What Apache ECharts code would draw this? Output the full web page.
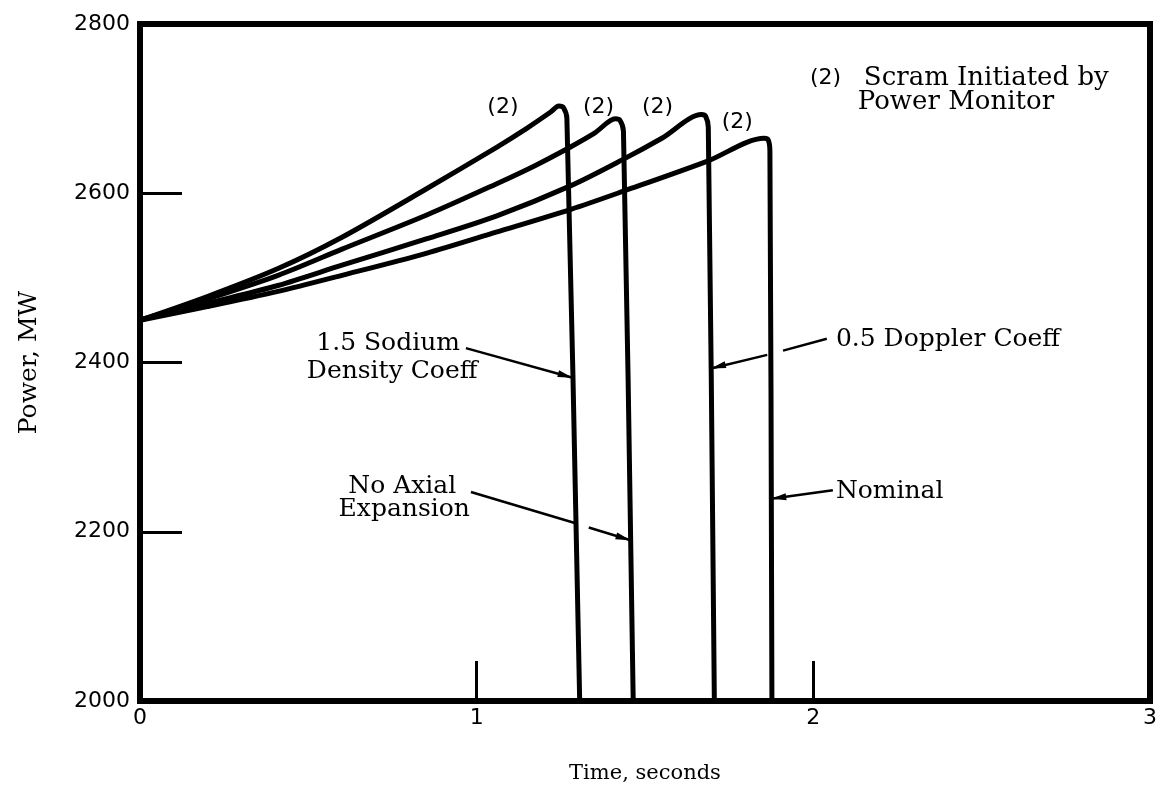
<!DOCTYPE html>
<html>
<head>
<meta charset="utf-8">
<script src="https://cdn.jsdelivr.net/npm/echarts@6/dist/echarts.min.js"></script>
<style>
  html, body { margin: 0; padding: 0; background: #fff; }
  #chart { width: 1160px; height: 791px; }
</style>
</head>
<body>
<div id="chart"></div>
<script>
// Reactor power transients, time in seconds vs power in MW
const sodiumT   = [0, 0.2, 0.41, 0.6, 0.85, 1.058, 1.15, 1.22, 1.244, 1.258, 1.268, 1.306];
const sodiumP   = [2450, 2478, 2511, 2548, 2605, 2654, 2677, 2696, 2703, 2701, 2688, 2000];

const noAxialT  = [0, 0.2, 0.41, 0.6, 0.85, 1.058, 1.17, 1.28, 1.35, 1.412, 1.426, 1.436, 1.465];
const noAxialP  = [2450, 2475, 2503, 2534, 2574, 2611, 2632, 2655, 2671, 2688, 2686, 2673, 2000];

const dopplerT  = [0, 0.2, 0.41, 0.6, 0.85, 1.058, 1.28, 1.435, 1.55, 1.668, 1.68, 1.688, 1.706];
const dopplerP  = [2450, 2470, 2491, 2515, 2546, 2573, 2609, 2640, 2665, 2693, 2691, 2678, 2000];

const nominalT  = [0, 0.2, 0.41, 0.6, 0.85, 1.058, 1.28, 1.44, 1.686, 1.854, 1.866, 1.871, 1.877];
const nominalP  = [2450, 2466, 2484, 2503, 2529, 2554, 2581, 2603, 2638, 2665, 2663, 2650, 2000];

// "(2)" scram markers near each peak, in data coordinates [t, MW]
const scramMarks = [[1.078, 2702], [1.362, 2702], [1.537, 2702], [1.774, 2684]];

const SERIF = '"DejaVu Serif", serif';
const SANS = '"DejaVu Sans", sans-serif';

function pairs(ts, ps) { return ts.map((t, i) => [t, ps[i]]); }

const chart = echarts.init(document.getElementById('chart'), null, { renderer: 'canvas' });

const curveStyle = { color: '#000', width: 5, join: 'round', cap: 'round' };
function curve(name, ts, ps) {
  return {
    name, type: 'line', data: pairs(ts, ps), showSymbol: false, symbol: 'none',
    smooth: 0.3,
    lineStyle: curveStyle, itemStyle: { color: '#000' }, clip: true, z: 3
  };
}

chart.setOption({
  animation: false,
  backgroundColor: '#fff',
  grid: { left: 140, right: 6, top: 24, bottom: 90, show: true, borderColor: '#000', borderWidth: 6, backgroundColor: 'transparent' },
  xAxis: {
    type: 'value', min: 0, max: 3, interval: 1,
    name: 'Time, seconds', nameLocation: 'middle', nameGap: 62,
    nameTextStyle: { fontFamily: SERIF, fontSize: 21, color: '#000' },
    axisLine: { show: false },
    axisTick: { show: true, inside: true, length: 40, lineStyle: { color: '#000', width: 3 } },
    axisLabel: { fontFamily: SANS, fontSize: 22, color: '#000', margin: 6 },
    splitLine: { show: false }
  },
  yAxis: {
    type: 'value', min: 2000, max: 2800, interval: 200,
    name: 'Power, MW', nameLocation: 'middle', nameGap: 98, nameRotate: 90,
    nameTextStyle: { fontFamily: SERIF, fontSize: 25, color: '#000' },
    axisLine: { show: false },
    axisTick: { show: true, inside: true, length: 42, lineStyle: { color: '#000', width: 3 } },
    axisLabel: { fontFamily: SANS, fontSize: 22, color: '#000', margin: 10, formatter: (v) => String(v) },
    splitLine: { show: false }
  },
  series: [
    curve('1.5 Sodium Density Coeff', sodiumT, sodiumP),
    curve('No Axial Expansion', noAxialT, noAxialP),
    curve('0.5 Doppler Coeff', dopplerT, dopplerP),
    curve('Nominal', nominalT, nominalP)
  ]
});

// Annotation layout, in data coordinates [t, MW]
const px = (d) => chart.convertToPixel({ gridIndex: 0 }, d);

function text(str, at, align, font, size) {
  const p = px(at);
  return {
    type: 'text', x: p[0], y: p[1], z: 10,
    style: {
      text: str, fill: '#000', font: size + 'px ' + font,
      align: align, verticalAlign: 'middle', textAlign: align, textVerticalAlign: 'middle'
    }
  };
}
function seg(a, b) {
  const p = px(a), q = px(b);
  return { type: 'line', z: 10, shape: { x1: p[0], y1: p[1], x2: q[0], y2: q[1] }, style: { stroke: '#000', lineWidth: 2.5 } };
}
function arrow(from, tip) {
  const p = px(from), q = px(tip);
  const dx = q[0] - p[0], dy = q[1] - p[1];
  const L = Math.hypot(dx, dy), ux = dx / L, uy = dy / L;
  const len = 15, hw = 3.5;
  const bx = q[0] - ux * len, by = q[1] - uy * len;
  return {
    type: 'polygon', z: 10,
    shape: { points: [[q[0], q[1]], [bx - uy * hw, by + ux * hw], [bx + uy * hw, by - ux * hw]] },
    style: { fill: '#000' }
  };
}

const g = [];
// scram markers
scramMarks.forEach(m => g.push(text('(2)', m, 'center', SANS, 22)));
// note at upper right
g.push(text('(2)', [1.99, 2736], 'left', SANS, 22));
g.push(text('Scram Initiated by', [2.150, 2736], 'left', SERIF, 26));
g.push(text('Power Monitor', [2.132, 2707], 'left', SERIF, 26));

// 1.5 Sodium Density Coeff
g.push(text('1.5 Sodium', [0.737, 2423], 'center', SERIF, 25));
g.push(text('Density Coeff', [0.749, 2389], 'center', SERIF, 25));
g.push(seg([0.968, 2417], [1.285, 2382]));
g.push(arrow([0.968, 2417], [1.285, 2382]));

// No Axial Expansion (leader broken where it crosses a curve)
g.push(text('No Axial', [0.779, 2254], 'center', SERIF, 25));
g.push(text('Expansion', [0.785, 2226], 'center', SERIF, 25));
g.push(seg([0.983, 2247], [1.294, 2210]));
g.push(seg([1.333, 2205], [1.457, 2190]));
g.push(arrow([0.983, 2247], [1.457, 2190]));

// 0.5 Doppler Coeff
g.push(text('0.5 Doppler Coeff', [2.067, 2427], 'left', SERIF, 25));
g.push(seg([2.040, 2428], [1.910, 2414]));
g.push(seg([1.863, 2409], [1.696, 2393]));
g.push(arrow([2.040, 2428], [1.696, 2393]));

// Nominal
g.push(text('Nominal', [2.067, 2248], 'left', SERIF, 25));
g.push(seg([2.058, 2249], [1.875, 2239]));
g.push(arrow([2.058, 2249], [1.875, 2239]));

chart.setOption({ graphic: g });
</script>
</body>
</html>
